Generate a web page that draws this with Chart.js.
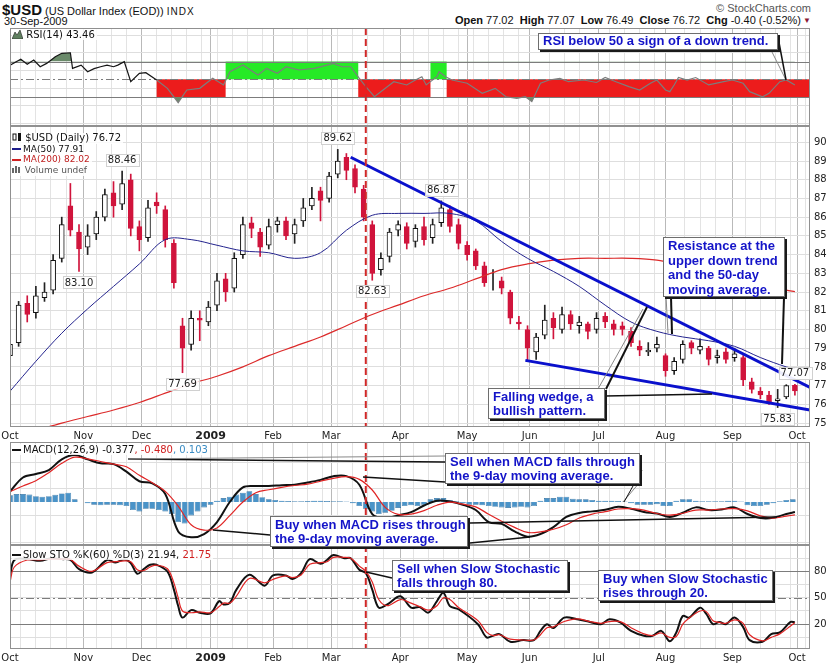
<!DOCTYPE html>
<html lang="en">
<head>
<meta charset="UTF-8">
<title>$USD (US Dollar Index) - RSI, MACD, Slow Stochastic</title>
<style>
  html, body { margin: 0; padding: 0; background: #fff; }
  #page { position: relative; width: 832px; height: 665px; overflow: hidden; font-family: "Liberation Sans", Arial, sans-serif; color: #111; }
  #page canvas { position: absolute; left: 0; }
  .t { position: absolute; white-space: nowrap; line-height: 1; }
  .lg { position: absolute; left: 12px; font-family: "DejaVu Sans", sans-serif; font-size: 10px; line-height: 11px; white-space: nowrap; }
  .lg > div, .lg > span.bg { background: rgba(255,255,255,0.85); width: fit-content; padding-right: 2px; }
  .dash { display: inline-block; width: 9px; border-top: 2px solid #111; vertical-align: middle; margin-right: 2px; }
  .note { position: absolute; box-sizing: border-box; background: #fff; border: 1px solid #6e6e6e; box-shadow: 2px 2px 0 #1a1a1a; color: #1414c8; font-weight: bold; font-size: 13px; line-height: 14px; padding: 1px 4px; white-space: nowrap; }
  #callouts { position: absolute; left: 0; top: 0; }
</style>
</head>
<body>
<div id="page">
  <canvas id="rsi" width="832" height="98" style="top:28px"></canvas>
  <canvas id="price" width="832" height="317" style="top:126px"></canvas>
  <canvas id="macd" width="832" height="103" style="top:442px"></canvas>
  <canvas id="sto" width="832" height="120" style="top:545px"></canvas>

  <div class="t" style="left:2px;top:2px;font-size:11px"><b style="font-size:15px">$USD</b> (US Dollar Index (EOD)) <span style="font-size:10px;letter-spacing:1px">INDX</span></div>
  <div class="t" style="left:4px;top:16px;font-size:11px">30-Sep-2009</div>
  <div class="t" style="right:21px;top:3px;font-size:11px;color:#555">&copy; StockCharts.com</div>
  <div class="t" style="right:31px;top:15px;font-size:11px"><b>Open</b> 77.02 &nbsp;<b>High</b> 77.07 &nbsp;<b>Low</b> 76.49 &nbsp;<b>Close</b> 76.72 &nbsp;<b>Chg</b> -0.40 (-0.52%)</div>
  <div class="t" style="right:21px;top:17px;font-size:8px;color:#8c1836">&#9660;</div>

  <div class="lg" style="top:29px"><div><svg width="11" height="9" style="vertical-align:-1px"><path d="M0 9 L3 2 L5 5 L8 0 L11 9Z" fill="#5f7f5f" stroke="#222" stroke-width="0.6"/></svg> RSI(14) 43.46</div></div>
  <div class="lg" style="top:133px;line-height:10.7px">
    <div><svg width="10" height="9" style="vertical-align:-1px"><rect x="1" y="1" width="3" height="6" fill="#fff" stroke="#111"/><rect x="6" y="0" width="3" height="8" fill="#111"/></svg> $USD (Daily) 76.72</div>
    <div style="font-size:9px"><span class="dash" style="border-color:#1c1c8a"></span>MA(50) 77.91</div>
    <div style="font-size:9px;color:#c02020"><span class="dash" style="border-color:#d02020"></span>MA(200) 82.02</div>
    <div style="font-size:9px;color:#555"><svg width="10" height="8"><rect x="0" y="3" width="2" height="5" fill="#666"/><rect x="3" y="1" width="2" height="7" fill="#666"/><rect x="6" y="2" width="2" height="6" fill="#666"/></svg> Volume undef</div>
  </div>
  <div class="lg" style="top:444px"><div><span class="dash"></span>MACD(12,26,9) -0.377<span style="color:#d02020">, -0.480</span><span style="color:#3a8cc4">, 0.103</span></div></div>
  <div class="lg" style="top:549px"><div><span class="dash"></span>Slow STO %K(60) %D(3) 21.94, <span style="color:#d02020">21.75</span></div></div>

  <svg id="callouts" width="832" height="665">
    <line x1="771" y1="50" x2="786" y2="80" stroke="#888"/>
    <line x1="778" y1="37" x2="786" y2="80" stroke="#111" stroke-width="1.5"/>
    <line x1="666" y1="296" x2="668" y2="333" stroke="#888"/>
    <line x1="671" y1="297" x2="672" y2="334" stroke="#111" stroke-width="2"/>
    <line x1="784" y1="297" x2="782" y2="364" stroke="#111" stroke-width="2"/>
    <line x1="598" y1="389" x2="643" y2="309" stroke="#888"/>
    <line x1="606" y1="389" x2="647" y2="307" stroke="#111" stroke-width="2"/>
    <line x1="605" y1="396" x2="712" y2="394" stroke="#111" stroke-width="1.5"/>
    <line x1="445" y1="462" x2="128" y2="459" stroke="#111" stroke-width="1.5"/>
    <line x1="445" y1="456" x2="128" y2="459" stroke="#888"/>
    <line x1="445" y1="482" x2="363" y2="477" stroke="#111" stroke-width="1.5"/>
    <line x1="640" y1="482" x2="623" y2="502" stroke="#888"/>
    <line x1="642" y1="470" x2="624" y2="502" stroke="#111"/>
    <line x1="270" y1="535" x2="213" y2="530" stroke="#111" stroke-width="1.5"/>
    <line x1="470" y1="523" x2="777" y2="517" stroke="#111" stroke-width="1.5"/>
    <line x1="470" y1="543" x2="530" y2="537" stroke="#111" stroke-width="1.5"/>
    <line x1="392" y1="578" x2="366" y2="572" stroke="#111" stroke-width="1.5"/>
  </svg>

  <div class="note" style="left:538px;top:33px;width:240px;height:17px;padding-top:0">RSI below 50 a sign of a down trend.</div>
  <div class="note" style="left:663px;top:237px;width:122px;height:60px;line-height:14.5px">Resistance at the<br>upper down trend<br>and the 50-day<br>moving average.</div>
  <div class="note" style="left:488px;top:388px;width:117px;height:31px">Falling wedge, a<br>bullish pattern.</div>
  <div class="note" style="left:445px;top:453px;width:195px;height:31px">Sell when MACD falls through<br>the 9-day moving average.</div>
  <div class="note" style="left:270px;top:516px;width:198px;height:31px">Buy when MACD rises through<br>the 9-day moving average.</div>
  <div class="note" style="left:392px;top:560px;width:176px;height:31px">Sell when Slow Stochastic<br>falls through 80.</div>
  <div class="note" style="left:598px;top:570px;width:175px;height:31px">Buy when Slow Stochastic<br>rises through 20.</div>
</div>

<script src="https://cdn.jsdelivr.net/npm/chart.js"></script>
<script>
// x unit: chart day, 0 = 1-Oct-2008
const monthDays = [0, 34, 61, 93, 122, 149, 181, 212, 241, 273, 304, 335, 365];
const monthNames = ['Oct', 'Nov', 'Dec', '2009', 'Feb', 'Mar', 'Apr', 'May', 'Jun', 'Jul', 'Aug', 'Sep', 'Oct'];
const markDay = 165;

// daily price, sampled every 4th day
const candleDays = [0,4,8,12,16,20,24,28,32,36,40,44,48,52,56,60,64,68,72,76,80,84,88,92,96,100,104,108,112,116,120,124,128,132,136,140,144,148,152,156,160,164,168,172,176,180,184,188,192,196,200,204,208,212,216,220,224,228,232,236,240,244,248,252,256,260,264,268,272,276,280,284,288,292,296,300,304,308,312,316,320,324,328,332,336,340,344,348,352,356,360,364];
const opens = [78.6,79.3,81.4,80.9,81.7,82.1,83.8,86.6,85.2,84.4,
  85.1,86.0,87.3,86.7,88.0,85.5,84.9,86.8,86.4,84.6,
  80.2,79.2,80.6,80.4,81.3,82.7,82.2,84.0,85.7,85.2,
  84.5,85.6,85.8,85.1,85.8,86.6,87.4,87.0,88.3,89.2,
  88.6,87.5,85.6,83.2,83.9,85.3,85.5,84.7,85.5,84.9,
  85.7,86.4,85.6,84.5,84.2,83.4,82.4,82.6,82.0,80.4,
  80.0,78.8,79.7,80.6,80.0,80.8,80.2,80.3,80.0,80.7,
  80.3,80.2,79.9,79.1,78.8,79.0,78.6,77.8,78.4,79.3,
  78.9,79.0,78.5,78.8,78.5,78.5,77.2,76.7,76.5,76.2,
  76.4,77.02];
const highs = [79.6,81.5,81.8,82.3,82.5,84.0,86.0,87.8,85.6,85.6,
  86.3,87.5,87.9,88.46,88.3,85.8,86.9,87.3,86.6,84.8,
  80.6,81.0,81.0,81.5,83.0,83.0,84.1,86.0,86.0,85.4,
  85.9,86.0,86.0,85.9,87.0,87.6,87.6,88.4,89.62,89.4,
  88.8,87.7,85.8,84.1,85.4,85.8,85.7,85.6,86.0,85.9,
  86.87,86.6,85.9,84.7,84.3,83.6,83.2,82.8,82.1,80.7,
  80.2,79.8,81.3,80.9,81.2,81.0,80.7,80.4,80.9,80.9,
  80.5,80.4,80.1,79.4,79.3,79.6,78.7,78.5,79.4,79.4,
  79.5,79.1,78.9,79.0,79.0,78.6,77.4,76.9,76.7,76.8,
  77.05,77.07];
const lows = [78.3,79.1,80.4,80.6,81.5,81.9,83.6,85.0,83.1,84.0,
  84.8,85.8,86.0,86.4,85.0,84.2,84.7,86.2,84.4,82.2,
  77.69,78.9,79.4,80.2,81.0,81.5,82.0,83.8,84.9,83.9,
  84.3,85.2,84.8,84.6,85.5,86.4,85.8,86.8,88.1,88.0,
  87.3,85.8,82.63,82.9,83.6,85.0,84.3,84.4,84.5,84.6,
  85.5,85.2,84.3,83.7,83.2,82.3,82.1,81.9,80.3,80.0,
  78.3,78.4,79.5,79.5,79.8,80.0,79.8,79.5,79.8,80.1,
  79.7,79.7,79.1,78.6,78.6,78.8,77.5,77.6,78.2,78.7,
  78.7,78.1,78.2,78.2,78.3,77.0,76.6,76.3,76.0,75.83,
  76.3,76.49];
const closes = [79.2,81.3,80.8,81.8,82.0,83.7,85.6,85.3,84.3,85.0,
  86.0,87.2,86.6,87.8,85.4,84.8,86.5,86.6,84.8,82.5,
  79.0,80.6,80.5,81.2,82.6,82.0,83.8,85.6,85.4,84.4,
  85.5,85.8,85.0,85.6,86.5,87.0,86.9,88.2,89.0,88.5,
  87.6,86.0,83.0,83.8,85.2,85.6,84.6,85.4,84.8,85.6,
  86.5,85.5,84.6,84.0,83.4,82.5,82.4,82.2,80.6,80.3,
  79.0,79.6,80.5,80.1,80.8,80.3,80.4,79.9,80.6,80.4,
  80.0,80.0,79.3,78.9,78.9,79.2,77.8,78.3,79.2,79.0,
  79.1,78.4,78.6,78.4,78.7,77.3,76.8,76.5,76.1,76.3,
  77.0,76.72];

// moving averages
const maDays = [0,12,24,36,48,60,72,84,96,108,120,132,144,156,168,180,192,204,216,228,240,252,264,276,288,300,312,324,336,348,360,364];
const ma50 = [76.7,78.3,79.8,81.1,82.3,83.5,84.8,84.8,84.5,84.2,84.1,83.8,84.1,85.3,86.1,86.2,86.2,86.2,85.8,84.7,83.8,83.1,82.3,81.3,80.4,79.9,79.6,79.4,79.1,78.5,78.0,77.91];
const ma200 = [74.2,74.6,75.0,75.35,75.7,76.1,76.6,77.1,77.5,78.0,78.6,79.1,79.6,80.2,80.8,81.3,81.8,82.2,82.7,83.2,83.5,83.7,83.8,83.8,83.8,83.7,83.4,83.1,82.8,82.4,82.1,82.02];

// falling wedge trend lines
const upperTrendDays = [158, 371];
const upperTrendVals = [89.2, 76.9];
const lowerTrendDays = [239, 371];
const lowerTrendVals = [78.35, 75.7];

// labelled highs / lows
const peakDays = [52, 32, 80, 152, 168, 200, 356, 364];
const peakVals = [88.46, 83.10, 77.69, 89.62, 82.63, 86.87, 75.83, 77.07];
const peakSide = ['up', 'down', 'down', 'up', 'down', 'up', 'down', 'up'];

// RSI(14)
const rsiDays = [0,5,8,11,14,17,21,24,28,29,33,36,39,42,45,48,50,53,56,60,63,68,73,78,82,88,94,99,102,108,115,119,124,128,134,141,147,150,154,158,162,165,169,173,178,184,188,191,193,198,199,202,205,212,219,225,230,235,239,242,246,250,255,259,266,272,276,281,287,292,297,300,304,306,308,310,314,318,324,331,335,340,343,349,352,357,360,364];
const rsiVals = [66,72.6,67,71.8,64.2,68,75.5,79.4,80,62.4,
  66,58.6,62,64.2,66,64.2,66,69.9,47.3,56.8,
  57.5,49.2,39.8,23.6,37.9,39.8,51.1,43.6,58.6,66.1,
  54.9,62.4,56.8,64.2,60.5,62.4,66.1,68,64.2,64.2,
  51.1,41.7,30.3,37.9,47.3,43.6,49.2,52.9,43.6,52.9,
  58.6,52.9,49.2,45.5,34.2,39.8,30.3,28.5,30.3,24.7,
  45.5,49.2,51.1,47.3,49.2,46.4,52,47.3,41.7,37.9,
  45.5,49.2,37.9,36,43.6,52,49.2,52,43.6,47.3,
  49.2,45.5,36,30.3,34.1,47.3,49.2,43.46];
const rsiLevels = [30, 70];
const rsiMid = 50;
const zoneFrom = [68, 100, 161.5, 195, 202.5];
const zoneTo = [100, 161.5, 195, 202.5, 371];
const zoneKind = ['below', 'above', 'below', 'above', 'below'];

// MACD(12,26,9)
const macdDays = [0,6,12,18,24,30,36,42,48,54,60,66,72,78,84,90,96,102,108,114,120,126,132,138,144,150,156,162,168,174,180,186,192,198,204,210,216,222,228,234,240,246,252,258,264,270,276,282,288,294,300,306,312,318,324,330,336,342,348,354,360,364];
const macdVals = [0.39,0.92,1.05,1.2,1.6,1.76,1.6,1.45,1.42,1.14,
  0.78,0.70,0.3,-1.1,-1.32,-1.2,-0.75,0.01,0.55,0.6,
  0.6,0.63,0.65,0.73,0.83,0.97,0.97,0.65,-0.45,-0.6,
  -0.5,-0.38,-0.13,0.05,0.02,-0.1,-0.3,-0.75,-0.82,-1.1,
  -1.3,-1.2,-0.94,-0.56,-0.41,-0.35,-0.29,-0.18,-0.25,-0.37,
  -0.43,-0.56,-0.4,-0.2,-0.3,-0.28,-0.2,-0.45,-0.6,-0.59,
  -0.45,-0.377];
const signalVals = [0.39,0.6,0.8,1.1,1.45,1.68,1.62,1.52,1.42,1.32,
  1.0,0.72,0.4,-0.15,-0.85,-1.05,-0.97,-0.5,0.0,0.35,
  0.46,0.55,0.62,0.67,0.78,0.89,0.95,0.85,0.45,-0.2,
  -0.46,-0.45,-0.32,-0.12,0.0,-0.08,-0.18,-0.46,-0.72,-0.95,
  -1.14,-1.12,-1.02,-0.85,-0.6,-0.45,-0.36,-0.26,-0.25,-0.3,
  -0.43,-0.49,-0.42,-0.3,-0.3,-0.26,-0.25,-0.33,-0.52,-0.6,
  -0.53,-0.48];
const histDays = [0,3,6,9,12,15,18,21,24,27,30,33,36,39,42,45,48,51,54,57,60,63,66,69,72,75,78,81,84,87,90,93,96,99,102,105,108,111,114,117,120,123,126,129,132,135,138,141,144,147,150,153,156,159,162,165,168,171,174,177,180,183,186,189,192,195,198,201,204,207,210,213,216,219,222,225,228,231,234,237,240,243,246,249,252,255,258,261,264,267,270,273,276,279,282,285,288,291,294,297,300,303,306,309,312,315,318,321,324,327,330,333,336,339,342,345,348,351,354,357,360,363];
const histVals = [0.25,0.3,0.3,0.28,0.22,0.2,0.22,0.27,0.32,0.35,
  0.1,0,-0.05,-0.1,-0.12,-0.1,-0.1,-0.12,-0.15,-0.3,
  -0.35,-0.25,-0.25,-0.3,-0.35,-0.45,-0.75,-0.8,-0.5,-0.35,
  -0.2,-0.1,0.05,0.15,0.2,0.28,0.35,0.4,0.3,0.18,
  0.1,0.08,0.05,0.04,0.03,0.03,0.04,0.05,0.05,0.04,
  0.03,0.03,0.02,-0.05,-0.15,-0.25,-0.35,-0.45,-0.4,-0.33,
  -0.22,-0.15,-0.12,-0.15,-0.1,0.1,0.15,0.15,0.08,0.03,
  -0.05,-0.1,-0.1,-0.12,-0.15,-0.18,-0.2,-0.22,-0.2,-0.18,
  -0.2,-0.15,0.05,0.15,0.15,0.2,0.2,0.12,0.1,0.1,
  0.08,0.05,0.05,0.05,0.04,0.02,-0.05,-0.1,-0.1,-0.1,
  -0.08,-0.15,-0.15,0.05,0.1,0.1,0.05,0.03,0.03,0.03,
  0.03,0.05,0.05,0.02,-0.12,-0.15,-0.15,-0.1,-0.05,0.03,
  0.08,0.103];

// Slow STO %K(60) %D(3)
const stoDays = [0,2,8,14,19,24,28,32,38,45,49,53,56,59,62,65,68,73,76,78,80,84,88,93,97,99,102,105,111,118,122,128,131,135,139,144,147,150,155,158,162,165,168,171,175,181,186,190,194,198,201,204,208,217,221,224,227,232,238,243,246,249,252,257,263,269,274,278,283,288,294,298,302,306,309,312,315,320,323,326,329,332,336,340,343,349,353,357,362,364];
const stoK = [74,93,94,92,95,94,93,82.6,78.8,93,
  90,93.6,89.5,77.3,82.6,87.5,87.5,79.9,59.3,40.6,
  27.5,36,33.1,32.4,46.2,42.5,44.4,59.3,76.2,63.8,
  75.4,75.4,71.4,78.1,93.9,88.6,93,98.7,95,95,
  81.8,78.1,59.3,38.8,42.5,51.8,38.8,39.5,33.1,46.2,
  55.6,40.6,37,20,5,6.9,8.7,0,1.9,1.9,
  12.4,20,15.6,27.5,25.6,22.6,20,25.6,22,12.4,
  6.9,6.9,12.4,0.6,10.6,29.3,27.5,38.8,31.3,20,
  22.6,20,27.5,16.7,1.9,0,8.7,10.6,22.6,21.94];
const stoD = [68,85,93,93,94,94,93.5,86,80,90,
  91,92,91,82,81,85,87,83,67,50,
  35,33,34,33,40,44,44,52,72,67,
  71,75,73,76,88,90,91,96,96,95,
  86,80,68,48,41,48,44,40,36,41,
  50,48,39,24,11,7,8,3,2,2,
  8,16,17,23,26,23,21,23,23,16,
  9,7,10,5,6,20,27,35,34,24,
  22,21,25,21,8,1,5,9,18,21.75];
const stoLevels = [20, 80];
const stoMid = 50;

const X_MAX = 371;
const pts = (days, vals) => days.map((d, i) => ({ x: d, y: vals[i] }));

// weekly grid lines (Mondays) plus the month starts
const gridDays = monthDays.slice();
for (let d = 5; d < X_MAX; d += 7) {
  if (!monthDays.some(m => Math.abs(m - d) < 3)) gridDays.push(d);
}
gridDays.sort((a, b) => a - b);

function xAxis(withLabels) {
  return {
    type: 'linear', min: 0, max: X_MAX, offset: false,
    border: { display: false },
    grid: { drawTicks: false, offset: false, color: c => monthDays.includes(c.tick.value) ? '#b9b9b9' : '#e3e3e3' },
    ticks: {
      display: withLabels, autoSkip: false, maxRotation: 0, padding: 3, color: '#222',
      font: c => {
        const bold = c.tick && c.tick.value === 93;
        return { family: 'DejaVu Sans', size: bold ? 11 : 10, weight: bold ? 'bold' : 'normal' };
      },
      callback: v => { const i = monthDays.indexOf(v); return i < 0 ? '' : monthNames[i]; }
    },
    afterBuildTicks: s => { s.ticks = gridDays.map(v => ({ value: v })); },
    afterFit: s => { s.height = withLabels ? 16 : 0; s.paddingLeft = 0; s.paddingRight = 0; }
  };
}

function yAxis(min, max, ticks, labelled) {
  return {
    position: 'right', min, max,
    border: { display: false },
    grid: { drawTicks: false, color: '#dedede' },
    ticks: { padding: 4, color: '#222', font: { family: 'DejaVu Sans', size: 10 },
      callback: v => labelled.includes(v) ? String(v) : '' },
    afterBuildTicks: s => { s.ticks = ticks.map(v => ({ value: v })); },
    afterFit: s => { s.width = 22; s.paddingTop = 0; s.paddingBottom = 0; }
  };
}

// zones, reference lines, the red marker and the panel frame
const frame = {
  id: 'frame',
  beforeDatasetsDraw(chart, args, opts) {
    const { ctx, chartArea: a, scales: { x, y } } = chart;
    ctx.save();
    ctx.beginPath(); ctx.rect(a.left, a.top, a.right - a.left, a.bottom - a.top); ctx.clip();
    if (opts.zones) {
      zoneFrom.forEach((f, i) => {
        const up = zoneKind[i] === 'above';
        const x0 = x.getPixelForValue(f), x1 = x.getPixelForValue(zoneTo[i]);
        const y0 = y.getPixelForValue(up ? 70 : 50), y1 = y.getPixelForValue(up ? 50 : 30);
        ctx.fillStyle = up ? '#26ea26' : '#ec1c1c';
        ctx.fillRect(x0, y0, x1 - x0, y1 - y0);
      });
    }
    ctx.lineWidth = 1; ctx.strokeStyle = '#7c7c7c';
    (opts.levels || []).forEach(v => {
      const py = Math.round(y.getPixelForValue(v)) + 0.5;
      ctx.beginPath(); ctx.moveTo(a.left, py); ctx.lineTo(a.right, py); ctx.stroke();
    });
    if (opts.mid !== undefined) {
      const py = Math.round(y.getPixelForValue(opts.mid)) + 0.5;
      ctx.setLineDash([8, 3, 2, 3]);
      ctx.beginPath(); ctx.moveTo(a.left, py); ctx.lineTo(a.right, py); ctx.stroke();
    }
    ctx.restore();
  },
  afterDatasetsDraw(chart) {
    const { ctx, chartArea: a, scales: { x } } = chart;
    const px = x.getPixelForValue(markDay);
    ctx.save();
    ctx.strokeStyle = '#d02828'; ctx.lineWidth = 2; ctx.setLineDash([7, 4]);
    ctx.beginPath(); ctx.moveTo(px, a.top); ctx.lineTo(px, a.bottom); ctx.stroke();
    ctx.setLineDash([]);
    ctx.strokeStyle = '#909090'; ctx.lineWidth = 1;
    ctx.strokeRect(a.left + 0.5, a.top + 0.5, a.right - a.left - 1, a.bottom - a.top - 1);
    ctx.restore();
  }
};

const peakLabels = {
  id: 'peakLabels',
  afterDatasetsDraw(chart) {
    const { ctx, scales: { x, y } } = chart;
    ctx.save();
    ctx.font = '10px "DejaVu Sans"';
    ctx.textAlign = 'center'; ctx.textBaseline = 'middle';
    peakDays.forEach((d, i) => {
      const t = peakVals[i].toFixed(2);
      const px = x.getPixelForValue(d);
      const py = y.getPixelForValue(peakVals[i]) + (peakSide[i] === 'up' ? -11 : 11);
      const w = ctx.measureText(t).width + 4;
      ctx.fillStyle = 'rgba(255,255,255,0.92)';
      ctx.fillRect(px - w / 2, py - 6, w, 12);
      ctx.strokeStyle = '#d0d0d0'; ctx.lineWidth = 1;
      ctx.strokeRect(Math.round(px - w / 2) + 0.5, Math.round(py - 6) + 0.5, Math.round(w), 12);
      ctx.fillStyle = '#222';
      ctx.fillText(t, px, py + 0.5);
    });
    ctx.restore();
  }
};

function options(xa, ya, frameOpts) {
  return {
    responsive: false, animation: false, events: [],
    layout: { padding: { left: 10, right: 0, top: 0, bottom: 0 } },
    plugins: { legend: { display: false }, tooltip: { enabled: false }, frame: frameOpts || {} },
    scales: { x: xa, y: ya }
  };
}

// RSI panel
new Chart(document.getElementById('rsi'), {
  type: 'line',
  data: { datasets: [
    { data: pts(rsiDays, rsiVals), borderWidth: 1.2, pointRadius: 0, tension: 0,
      segment: { borderColor: c => c.p0.parsed.x < zoneFrom[0] ? '#151515' : '#7d7d7d' },
      fill: { target: { value: 70 }, above: '#6a8a6a', below: 'rgba(0,0,0,0)' } },
    { data: pts(rsiDays, rsiVals), borderWidth: 0, pointRadius: 0, tension: 0,
      fill: { target: { value: 30 }, above: 'rgba(0,0,0,0)', below: '#6a8a6a' } }
  ]},
  options: options(xAxis(false),
    yAxis(-2.8, 108, [0, 10, 20, 30, 40, 50, 60, 70, 80, 90, 100], [10, 30, 50, 70, 90]),
    { zones: true, levels: rsiLevels, mid: rsiMid }),
  plugins: [frame]
});

// price panel
const up = i => closes[i] >= opens[i];
const downRed = '#d0143c';
new Chart(document.getElementById('price'), {
  type: 'bar',
  data: { datasets: [
    { type: 'line', data: pts(upperTrendDays, upperTrendVals), borderColor: '#0a10cc', borderWidth: 3, pointRadius: 0, order: 1 },
    { type: 'line', data: pts(lowerTrendDays, lowerTrendVals), borderColor: '#0a10cc', borderWidth: 3, pointRadius: 0, order: 1 },
    { type: 'line', data: pts(maDays, ma50), borderColor: '#24248e', borderWidth: 1, pointRadius: 0, tension: 0.35, order: 2 },
    { type: 'line', data: pts(maDays, ma200), borderColor: '#dc2a2a', borderWidth: 1.2, pointRadius: 0, tension: 0.35, order: 2 },
    { data: candleDays.map((d, i) => ({ x: d, y: [Math.min(opens[i], closes[i]), Math.max(opens[i], closes[i])] })),
      backgroundColor: c => up(c.dataIndex) ? '#ffffff' : downRed,
      borderColor: c => up(c.dataIndex) ? '#111111' : downRed,
      borderWidth: 1, borderSkipped: false, barThickness: 5, grouped: false, order: 3 },
    { data: candleDays.map((d, i) => ({ x: d, y: [lows[i], highs[i]] })),
      backgroundColor: c => up(c.dataIndex) ? '#222222' : downRed,
      barThickness: 1, grouped: false, order: 4 }
  ]},
  options: options(xAxis(true),
    yAxis(74.79, 90.87, [75, 76, 77, 78, 79, 80, 81, 82, 83, 84, 85, 86, 87, 88, 89, 90],
      [75, 76, 77, 78, 79, 80, 81, 82, 83, 84, 85, 86, 87, 88, 89, 90])),
  plugins: [frame, peakLabels]
});

// MACD panel
new Chart(document.getElementById('macd'), {
  type: 'bar',
  data: { datasets: [
    { type: 'line', data: pts(macdDays, signalVals), borderColor: '#e02424', borderWidth: 1.2, pointRadius: 0, tension: 0.35, order: 1 },
    { type: 'line', data: pts(macdDays, macdVals), borderColor: '#111111', borderWidth: 2, pointRadius: 0, tension: 0.35, order: 2 },
    { data: pts(histDays, histVals), backgroundColor: '#4a93c8', borderColor: '#2f6c9c', borderWidth: 0.6,
      barPercentage: 0.9, categoryPercentage: 1, grouped: false, order: 3 }
  ]},
  options: options(xAxis(false),
    yAxis(-1.61, 2.25, [-1.5, -1, -0.5, 0, 0.5, 1, 1.5, 2], [-1, 0, 1, 2])),
  plugins: [frame]
});

// Slow stochastic panel
new Chart(document.getElementById('sto'), {
  type: 'line',
  data: { datasets: [
    { data: pts(stoDays, stoD), borderColor: '#e02424', borderWidth: 1.2, pointRadius: 0, tension: 0.35 },
    { data: pts(stoDays, stoK), borderColor: '#111111', borderWidth: 2, pointRadius: 0, tension: 0.35 }
  ]},
  options: options(xAxis(true),
    yAxis(-8.2, 110, [5, 20, 35, 50, 65, 80, 95], [20, 50, 80]),
    { levels: stoLevels, mid: stoMid }),
  plugins: [frame]
});
</script>
</body>
</html>
